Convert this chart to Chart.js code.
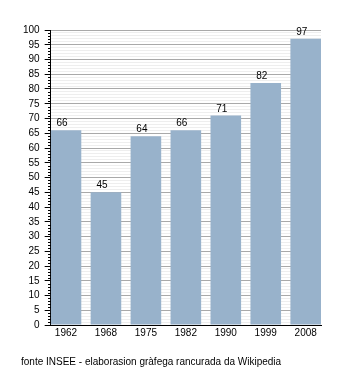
<!DOCTYPE html>
<html>
<head>
<meta charset="utf-8">
<script src="https://cdn.jsdelivr.net/npm/chart.js@4/dist/chart.umd.min.js"></script>
<style>
  html, body { margin: 0; padding: 0; background: #fff; }
  #wrap { position: relative; width: 350px; height: 373px; }
  #note { position: absolute; left: 21px; top: 356px; font: 10px "Liberation Sans", Arial, sans-serif; line-height: 12px; color: #000; white-space: nowrap; }
</style>
</head>
<body>
<div id="wrap">
  <canvas id="c" width="350" height="373"></canvas>
  <div id="note">fonte INSEE - elaborasion gràfega rancurada da Wikipedia</div>
</div>
<script>
const years = ["1962", "1968", "1975", "1982", "1990", "1999", "2008"];
const population = [66, 45, 64, 66, 71, 82, 97];
const yMin = 0;
const yMax = 100;

const FONT = { family: '"Liberation Sans", Arial, sans-serif', size: 10 };

const minorTicks = {
  id: 'minorTicks',
  afterDraw(chart) {
    const y = chart.scales.y;
    const ctx = chart.ctx;
    const x0 = Math.round(chart.chartArea.left);
    ctx.save();
    ctx.strokeStyle = '#000';
    ctx.lineWidth = 1;
    ctx.beginPath();
    for (let v = yMin; v <= yMax; v++) {
      if (v % 5 === 0) continue;
      const py = Math.round(y.getPixelForValue(v)) + 0.5;
      ctx.moveTo(x0 - 3, py);
      ctx.lineTo(x0, py);
    }
    ctx.stroke();
    ctx.restore();
  }
};

const valueLabels = {
  id: 'valueLabels',
  afterDatasetsDraw(chart) {
    const ctx = chart.ctx;
    const meta = chart.getDatasetMeta(0);
    ctx.save();
    ctx.font = '10px "Liberation Sans", Arial, sans-serif';
    ctx.fillStyle = '#000';
    ctx.textAlign = 'center';
    ctx.textBaseline = 'alphabetic';
    meta.data.forEach((bar, i) => {
      ctx.fillText(String(population[i]), bar.x - 4, bar.y - 4);
    });
    ctx.restore();
  }
};

new Chart(document.getElementById('c'), {
  type: 'bar',
  data: {
    datasets: [{
      data: population.map((v, i) => ({ x: i, y: v })),
      backgroundColor: '#98b2cb',
      borderWidth: 0,
      categoryPercentage: 1,
      barPercentage: 0.766
    }]
  },
  options: {
    responsive: false,
    animation: false,
    events: [],
    layout: { padding: { left: 18, right: 29, top: 30, bottom: 32 } },
    plugins: { legend: { display: false }, tooltip: { enabled: false }, title: { display: false } },
    scales: {
      x: {
        type: 'linear',
        offset: false,
        min: -0.383,
        max: years.length - 1 + 0.383,
        afterBuildTicks(scale) {
          scale.ticks = years.map((_, i) => ({ value: i }));
        },
        ticks: {
          autoSkip: false,
          maxRotation: 0,
          padding: 2,
          color: '#000',
          font: FONT,
          callback: (v) => years[v] ?? ''
        },
        grid: { offset: false, drawOnChartArea: false, drawTicks: false },
        border: { display: true, color: '#000', width: 1 }
      },
      y: {
        min: yMin,
        max: yMax,
        afterBuildTicks(scale) {
          const t = [];
          for (let v = yMin; v <= yMax; v++) t.push({ value: v });
          scale.ticks = t;
        },
        ticks: {
          autoSkip: false,
          padding: 5,
          color: '#000',
          font: FONT,
          callback: (v) => (v % 5 === 0 ? String(v) : '')
        },
        grid: {
          color: (c) => (c.tick && c.tick.value % 5 === 0 ? '#a9a9a9' : '#eeeeee'),
          tickColor: (c) => (c.tick && c.tick.value % 5 === 0 ? '#000' : 'rgba(0,0,0,0)'),
          tickLength: 6,
          lineWidth: 1
        },
        border: { display: true, color: '#000', width: 1 }
      }
    }
  },
  plugins: [minorTicks, valueLabels]
});
</script>
</body>
</html>
